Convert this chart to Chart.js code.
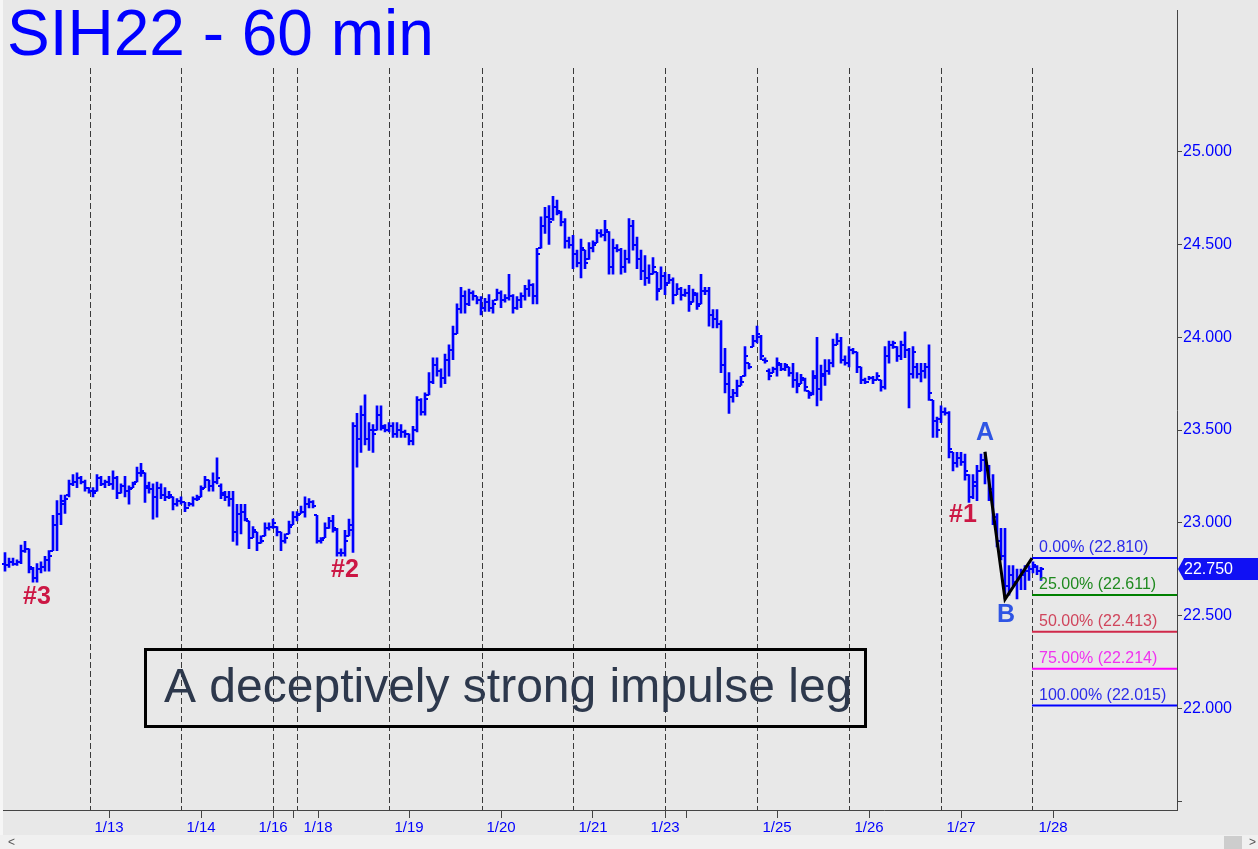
<!DOCTYPE html>
<html>
<head>
<meta charset="utf-8">
<title>SIH22 - 60 min</title>
<script src="https://cdn.jsdelivr.net/npm/chart.js@4.4.1/dist/chart.umd.min.js"></script>
<style>
  html, body { margin: 0; padding: 0; background: #e8e8e8; }
  #wrap { width: 1258px; height: 849px; }
</style>
</head>
<body>
<div id="wrap"><canvas id="chart" width="1258" height="849"></canvas></div>
<script>
/* ============================================================
   SIH22 - 60 MIN  (hourly OHLC, one bar per hour)
   ============================================================ */

const barHigh = [
  22.84,22.81,22.81,22.80,22.88,22.90,22.86,22.76,22.78,22.79,
  22.82,22.85,23.04,23.12,23.15,23.15,23.23,23.26,23.27,23.25,
  23.23,23.19,23.19,23.26,23.25,23.23,23.25,23.28,23.25,23.21,
  23.25,23.20,23.22,23.30,23.32,23.27,23.22,23.21,23.22,23.21,
  23.19,23.17,23.14,23.13,23.14,23.11,23.11,23.14,23.15,23.20,
  23.25,23.23,23.27,23.35,23.21,23.17,23.17,23.17,23.10,23.10,
  23.10,23.01,22.98,22.95,22.93,23.00,23.00,23.02,22.98,22.95,
  22.94,23.01,23.06,23.06,23.09,23.14,23.13,23.12,23.04,22.92,
  23.00,23.03,23.04,22.97,22.86,22.96,23.02,23.54,23.59,23.63,
  23.69,23.54,23.53,23.63,23.63,23.53,23.54,23.54,23.54,23.53,
  23.50,23.48,23.52,23.68,23.67,23.70,23.81,23.89,23.89,23.83,
  23.91,23.96,24.06,24.18,24.27,24.25,24.26,24.25,24.22,24.22,
  24.21,24.23,24.20,24.26,24.25,24.23,24.34,24.23,24.22,24.24,
  24.28,24.31,24.29,24.48,24.65,24.70,24.71,24.76,24.74,24.68,
  24.64,24.54,24.55,24.47,24.53,24.47,24.51,24.52,24.58,24.58,
  24.63,24.57,24.53,24.50,24.48,24.47,24.64,24.63,24.54,24.47,
  24.44,24.39,24.43,24.35,24.38,24.35,24.34,24.32,24.29,24.27,
  24.26,24.28,24.26,24.24,24.34,24.27,24.27,24.15,24.15,24.09,
  23.94,23.81,23.72,23.77,23.79,23.95,23.86,24.01,24.06,24.01,
  23.89,23.83,23.84,23.89,23.86,23.86,23.84,23.86,23.81,23.80,
  23.78,23.71,23.82,24.00,23.85,23.88,23.88,23.99,24.02,24.00,
  23.90,23.95,23.94,23.92,23.84,23.78,23.79,23.79,23.81,23.77,
  23.95,23.98,23.98,23.95,23.98,24.03,23.94,23.95,23.86,23.86,
  23.86,23.96,23.66,23.57,23.63,23.62,23.60,23.38,23.38,23.38,
  23.37,23.26,23.26,23.31,23.37,23.38,23.31,23.26,23.05,22.97,
  22.97,22.77,22.77,22.75,22.75,22.77,22.77,22.79,22.77,22.76
];

const barLow = [
  22.74,22.76,22.77,22.77,22.78,22.84,22.73,22.68,22.68,22.73,
  22.74,22.74,22.85,22.85,22.99,23.05,23.14,23.20,23.19,23.21,
  23.17,23.16,23.14,23.17,23.20,23.19,23.20,23.18,23.13,23.16,
  23.14,23.10,23.19,23.22,23.25,23.11,23.16,23.02,23.03,23.13,
  23.12,23.13,23.07,23.09,23.10,23.06,23.09,23.09,23.12,23.14,
  23.19,23.17,23.17,23.21,23.13,23.12,23.09,22.90,22.88,22.94,
  23.01,22.86,22.92,22.85,22.89,22.93,22.96,22.97,22.93,22.85,
  22.89,22.94,22.99,23.01,23.05,23.03,23.08,23.08,22.89,22.89,
  22.92,22.97,22.95,22.82,22.82,22.82,22.93,22.84,23.30,23.38,
  23.42,23.39,23.38,23.50,23.50,23.49,23.49,23.46,23.46,23.46,
  23.46,23.42,23.42,23.49,23.58,23.58,23.69,23.75,23.79,23.73,
  23.75,23.79,23.88,24.02,24.13,24.13,24.17,24.20,24.18,24.12,
  24.14,24.14,24.13,24.20,24.16,24.19,24.20,24.13,24.15,24.16,
  24.20,24.22,24.18,24.18,24.48,24.56,24.50,24.63,24.66,24.60,
  24.48,24.48,24.37,24.38,24.32,24.37,24.42,24.46,24.51,24.54,
  24.52,24.34,24.34,24.46,24.34,24.35,24.40,24.47,24.37,24.31,
  24.28,24.29,24.34,24.20,24.26,24.23,24.29,24.18,24.23,24.20,
  24.22,24.14,24.19,24.15,24.18,24.23,24.06,24.05,24.05,23.81,
  23.70,23.59,23.65,23.68,23.74,23.79,23.83,23.95,23.97,23.88,
  23.86,23.77,23.81,23.79,23.82,23.82,23.79,23.73,23.70,23.75,
  23.71,23.67,23.69,23.63,23.66,23.74,23.80,23.84,23.96,23.86,
  23.85,23.84,23.91,23.81,23.75,23.75,23.77,23.75,23.77,23.71,
  23.72,23.86,23.94,23.87,23.88,23.89,23.62,23.78,23.78,23.76,
  23.78,23.66,23.46,23.46,23.54,23.58,23.35,23.28,23.30,23.31,
  23.23,23.11,23.13,23.12,23.28,23.21,23.12,22.99,22.87,22.80,
  22.59,22.61,22.66,22.59,22.64,22.64,22.69,22.73,22.72,22.69
];

const barOpen = [
  22.78,22.77,22.79,22.78,22.79,22.85,22.86,22.75,22.70,22.75,
  22.76,22.80,22.85,22.99,23.05,23.10,23.15,23.21,23.22,23.24,
  23.22,23.19,23.17,23.17,23.24,23.21,23.22,23.21,23.24,23.16,
  23.20,23.17,23.19,23.22,23.27,23.27,23.19,23.18,23.14,23.19,
  23.15,23.14,23.14,23.10,23.12,23.11,23.08,23.10,23.13,23.14,
  23.19,23.23,23.20,23.22,23.20,23.15,23.14,23.13,22.95,23.05,
  23.06,23.01,22.92,22.95,22.89,22.93,22.97,22.98,22.98,22.95,
  22.90,22.94,22.99,23.03,23.05,23.06,23.10,23.11,23.04,22.90,
  22.92,22.97,23.01,22.96,22.84,22.84,22.93,22.96,23.52,23.45,
  23.58,23.45,23.50,23.50,23.58,23.51,23.50,23.52,23.48,23.50,
  23.49,23.48,23.44,23.50,23.66,23.60,23.69,23.76,23.85,23.82,
  23.78,23.88,23.93,24.02,24.15,24.22,24.18,24.24,24.22,24.20,
  24.16,24.19,24.16,24.20,24.24,24.20,24.21,24.22,24.16,24.20,
  24.22,24.26,24.28,24.22,24.48,24.60,24.65,24.64,24.70,24.67,
  24.62,24.52,24.50,24.45,24.40,24.47,24.42,24.48,24.51,24.56,
  24.55,24.57,24.38,24.48,24.47,24.38,24.42,24.60,24.50,24.42,
  24.36,24.32,24.34,24.35,24.26,24.33,24.29,24.31,24.23,24.26,
  24.23,24.24,24.19,24.23,24.18,24.25,24.25,24.12,24.10,24.07,
  23.85,23.75,23.68,23.70,23.74,23.79,23.86,23.95,23.98,24.00,
  23.88,23.82,23.81,23.83,23.85,23.83,23.84,23.81,23.77,23.75,
  23.77,23.71,23.70,23.78,23.72,23.79,23.82,23.86,23.96,23.98,
  23.88,23.86,23.93,23.92,23.84,23.77,23.76,23.78,23.77,23.77,
  23.73,23.90,23.96,23.95,23.90,23.96,23.93,23.80,23.84,23.80,
  23.82,23.84,23.66,23.55,23.56,23.60,23.59,23.38,23.32,23.35,
  23.33,23.26,23.14,23.20,23.28,23.34,23.30,23.18,23.03,22.90,
  22.82,22.66,22.72,22.68,22.70,22.72,22.74,22.75,22.76,22.74
];

const barClose = [
  22.77,22.79,22.78,22.79,22.85,22.86,22.76,22.70,22.75,22.76,
  22.80,22.82,22.99,23.05,23.12,23.13,23.21,23.22,23.24,23.22,
  23.19,23.17,23.16,23.24,23.21,23.22,23.21,23.24,23.16,23.20,
  23.17,23.18,23.21,23.27,23.28,23.20,23.18,23.14,23.19,23.15,
  23.14,23.15,23.10,23.12,23.11,23.08,23.10,23.13,23.13,23.18,
  23.23,23.20,23.22,23.24,23.16,23.14,23.13,22.95,23.05,23.06,
  23.02,22.92,22.96,22.89,22.90,22.97,22.98,23.00,22.95,22.90,
  22.92,22.98,23.03,23.04,23.06,23.10,23.11,23.09,22.90,22.91,
  22.97,23.01,22.97,22.84,22.84,22.90,22.99,23.52,23.45,23.58,
  23.45,23.50,23.48,23.58,23.52,23.50,23.52,23.48,23.50,23.49,
  23.48,23.44,23.50,23.66,23.60,23.67,23.76,23.85,23.82,23.78,
  23.88,23.93,24.02,24.15,24.22,24.18,24.24,24.22,24.20,24.16,
  24.19,24.16,24.18,24.24,24.20,24.21,24.22,24.16,24.20,24.22,
  24.26,24.28,24.22,24.45,24.60,24.65,24.62,24.70,24.68,24.62,
  24.52,24.50,24.45,24.40,24.48,24.40,24.48,24.50,24.56,24.55,
  24.58,24.38,24.48,24.47,24.38,24.42,24.60,24.50,24.42,24.36,
  24.32,24.34,24.38,24.25,24.33,24.28,24.31,24.23,24.26,24.23,
  24.24,24.18,24.24,24.17,24.25,24.25,24.12,24.10,24.07,23.85,
  23.75,23.68,23.70,23.74,23.76,23.90,23.84,23.98,24.02,23.90,
  23.87,23.79,23.83,23.86,23.83,23.85,23.81,23.77,23.74,23.78,
  23.73,23.69,23.79,23.72,23.80,23.82,23.86,23.96,23.98,23.88,
  23.86,23.93,23.92,23.84,23.77,23.76,23.78,23.77,23.79,23.73,
  23.90,23.96,23.97,23.90,23.96,23.93,23.80,23.92,23.80,23.82,
  23.84,23.70,23.55,23.50,23.60,23.59,23.40,23.32,23.35,23.33,
  23.28,23.14,23.22,23.28,23.34,23.30,23.18,23.03,22.90,22.82,
  22.66,22.72,22.68,22.70,22.72,22.74,22.75,22.77,22.74,22.75
];

// session breaks (in bar units) and date ticks
const sessionStarts = [21.25, 44, 67, 73, 96, 119.25, 142, 165, 188, 211, 234, 256.75];
const dayTickPos = [26, 49, 67, 72, 78.25, 101, 124, 147, 165, 170.25, 193, 216, 239, 262];
const dayLabels = ['1/13', '1/14', '1/16', '', '1/18', '1/19', '1/20', '1/21', '1/23', '', '1/25', '1/26', '1/27', '1/28'];
const yTickVals = [21.5, 22, 22.5, 23, 23.5, 24, 24.5, 25];

// A-B-C swing and the retracement targets
const abcIdx = [245, 250, 256.75];
const abcPrice = [23.383, 22.588, 22.810];
const fibPct = ['0.00%', '25.00%', '50.00%', '75.00%', '100.00%'];
const fibLevels = [22.810, 22.611, 22.413, 22.214, 22.015];
const fibLineColors = ['#0000ff', '#008000', '#d0284a', '#ff00ff', '#0000ff'];
const fibTextColors = ['#2b2bea', '#1f8a1f', '#d0455c', '#f033f0', '#2b2bea'];
const lastPrice = 22.750;

const pivotLabels = [
    { text: '#3', idx: 8, price: 22.60, color: '#cc1744' },
    { text: '#2', idx: 85, price: 22.745, color: '#cc1744' },
    { text: '#1', idx: 239.5, price: 23.04, color: '#cc1744' },
    { text: 'A', idx: 245, price: 23.484, color: '#2f55e4' },
    { text: 'B', idx: 250.25, price: 22.50, color: '#2f55e4' }
];

const FONT = "'Liberation Sans', Arial, sans-serif";

// ============================================================
// PLUGINS
// ============================================================
const backgroundPlugin = {
    id: 'background',
    beforeDraw(chart) {
        const ctx = chart.ctx;
        ctx.save();
        ctx.fillStyle = '#e8e8e8';
        ctx.fillRect(0, 0, chart.width, chart.height);
        ctx.fillStyle = '#f6f6f6';
        ctx.fillRect(0, 0, 3, chart.height);
        // scroll strip
        ctx.fillStyle = '#f0f0f0';
        ctx.fillRect(0, 835, chart.width, 14);
        ctx.fillStyle = '#cdcdcd';
        ctx.fillRect(1224, 836, 18, 13);
        ctx.fillStyle = '#555';
        ctx.font = '12px ' + FONT;
        ctx.textBaseline = 'middle';
        ctx.fillText('<', 8, 843);
        ctx.fillText('>', 1249, 843);
        ctx.restore();
    },
    beforeDatasetsDraw(chart) {
        const ctx = chart.ctx;
        const xs = chart.scales.x;
        ctx.save();
        ctx.strokeStyle = '#3a3a3a';
        ctx.lineWidth = 1;
        ctx.setLineDash([6, 3]);
        sessionStarts.forEach(v => {
            const x = Math.round(xs.getPixelForValue(v)) + 0.5;
            ctx.beginPath();
            ctx.moveTo(x, 68);
            ctx.lineTo(x, chart.chartArea.bottom);
            ctx.stroke();
        });
        ctx.restore();
    }
};

const ohlcTickPlugin = {
    id: 'ohlcTicks',
    afterDatasetDraw(chart, args) {
        if (args.index !== 0) return;
        const ctx = chart.ctx;
        const xs = chart.scales.x;
        const ys = chart.scales.y;
        ctx.save();
        ctx.strokeStyle = '#0000ff';
        ctx.lineWidth = 2;
        for (let i = 0; i < barOpen.length; i++) {
            const x = xs.getPixelForValue(i);
            const yo = Math.round(ys.getPixelForValue(barOpen[i]));
            const yc = Math.round(ys.getPixelForValue(barClose[i]));
            ctx.beginPath();
            ctx.moveTo(x - 3, yo);
            ctx.lineTo(x, yo);
            ctx.moveTo(x, yc);
            ctx.lineTo(x + 3, yc);
            ctx.stroke();
        }
        ctx.restore();
    }
};

const overlayPlugin = {
    id: 'overlay',
    afterDraw(chart) {
        const ctx = chart.ctx;
        const xs = chart.scales.x;
        const ys = chart.scales.y;
        ctx.save();

        // title
        ctx.fillStyle = '#0000ff';
        ctx.font = '64px ' + FONT;
        ctx.textBaseline = 'alphabetic';
        ctx.textAlign = 'left';
        ctx.fillText('SIH22 - 60 min', 7, 55);

        // comment box
        ctx.strokeStyle = '#000';
        ctx.lineWidth = 3;
        ctx.strokeRect(145.5, 649.5, 720, 77);
        ctx.fillStyle = '#2d384c';
        ctx.font = '48px ' + FONT;
        ctx.fillText('A deceptively strong impulse leg', 164, 702);

        // retracement labels
        ctx.font = '16px ' + FONT;
        fibLevels.forEach((lvl, k) => {
            ctx.fillStyle = fibTextColors[k];
            ctx.fillText(fibPct[k] + ' (' + lvl.toFixed(3) + ')', 1039, ys.getPixelForValue(lvl) - 6);
        });

        // pivot labels
        ctx.font = 'bold 25px ' + FONT;
        ctx.textAlign = 'center';
        ctx.textBaseline = 'middle';
        pivotLabels.forEach(p => {
            ctx.fillStyle = p.color;
            ctx.fillText(p.text, xs.getPixelForValue(p.idx), ys.getPixelForValue(p.price));
        });

        // last price tag
        const yp = Math.round(ys.getPixelForValue(lastPrice));
        const left = chart.chartArea.right;
        ctx.fillStyle = '#1010f4';
        ctx.beginPath();
        ctx.moveTo(left + 1, yp);
        ctx.lineTo(left + 7, yp - 11);
        ctx.lineTo(chart.width, yp - 11);
        ctx.lineTo(chart.width, yp + 11);
        ctx.lineTo(left + 7, yp + 11);
        ctx.closePath();
        ctx.fill();
        ctx.fillStyle = '#fff';
        ctx.font = '16px ' + FONT;
        ctx.textAlign = 'left';
        ctx.fillText(lastPrice.toFixed(3), left + 7, yp + 1);

        ctx.restore();
    }
};

// ============================================================
// CHART
// ============================================================
function buildChart() {
    const ctx = document.getElementById('chart');

    const ranges = barHigh.map((h, i) => ({ x: i, y: [barLow[i], h] }));
    const abcLine = abcIdx.map((v, k) => ({ x: v, y: abcPrice[k] }));

    const datasets = [{
        type: 'bar',
        data: ranges,
        backgroundColor: '#0000ff',
        borderWidth: 0,
        barThickness: 2,
        order: 3
    }];

    fibLevels.forEach((lvl, k) => {
        datasets.push({
            type: 'line',
            data: [{ x: 256.75, y: lvl }, { x: 293, y: lvl }],
            borderColor: fibLineColors[k],
            borderWidth: 2,
            pointRadius: 0,
            order: 2
        });
    });

    datasets.push({
        type: 'line',
        data: abcLine,
        borderColor: '#000',
        borderWidth: 3,
        pointRadius: 0,
        tension: 0,
        order: 1
    });

    new Chart(ctx, {
        type: 'bar',
        data: { datasets: datasets },
        options: {
            responsive: false,
            animation: false,
            devicePixelRatio: 1,
            events: [],
            layout: { padding: { left: 3, top: 0, right: 0, bottom: 0 } },
            plugins: {
                legend: { display: false },
                tooltip: { enabled: false }
            },
            scales: {
                x: {
                    type: 'linear',
                    min: -0.5,
                    max: 293,
                    offset: false,
                    afterBuildTicks: scale => {
                        scale.ticks = dayTickPos.map(v => ({ value: v }));
                    },
                    afterFit: scale => { scale.height = 39; },
                    ticks: {
                        autoSkip: false,
                        maxRotation: 0,
                        minRotation: 0,
                        padding: 1,
                        color: '#0000ff',
                        font: { family: FONT, size: 15 },
                        callback: (v, i) => dayLabels[i]
                    },
                    grid: {
                        offset: false,
                        drawOnChartArea: false,
                        tickLength: 8,
                        color: '#444'
                    },
                    border: { display: true, color: '#444', width: 1 }
                },
                y: {
                    type: 'linear',
                    position: 'right',
                    min: 21.452,
                    max: 25.761,
                    afterBuildTicks: scale => {
                        scale.ticks = yTickVals.map(v => ({ value: v }));
                    },
                    afterFit: scale => { scale.width = 81; },
                    ticks: {
                        padding: 1,
                        color: '#0000ff',
                        font: { family: FONT, size: 16 },
                        callback: v => (v < 22 ? '' : v.toFixed(3))
                    },
                    grid: {
                        drawOnChartArea: false,
                        tickLength: 5,
                        color: '#444'
                    },
                    border: { display: true, color: '#444', width: 1 }
                }
            }
        },
        plugins: [backgroundPlugin, ohlcTickPlugin, overlayPlugin]
    });
}

document.addEventListener('DOMContentLoaded', function() {
    buildChart();
});
</script>
</body>
</html>
